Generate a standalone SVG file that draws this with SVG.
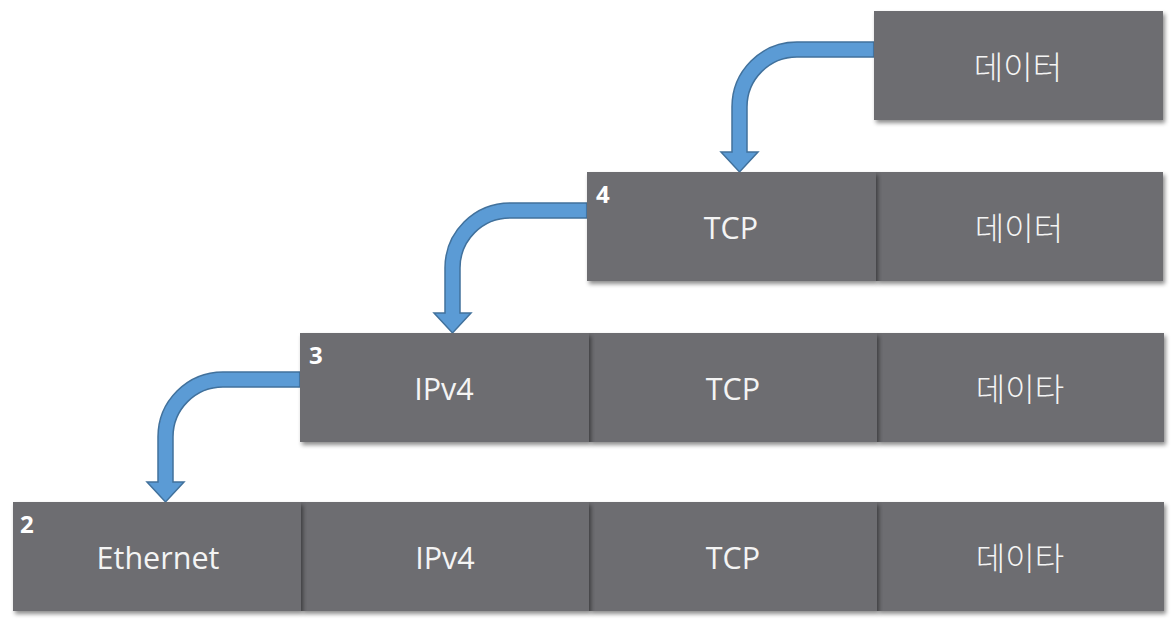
<svg xmlns="http://www.w3.org/2000/svg" width="1173" height="622" viewBox="0 0 1173 622">
<defs>
<filter id="sh" x="-10%" y="-10%" width="125%" height="130%">
<feDropShadow dx="2" dy="3" stdDeviation="2" flood-color="#000" flood-opacity="0.45"/>
</filter>
<style>
.cell{fill:#6D6D71;filter:url(#sh)}
.lbl{fill:#F4F4F4;font-family:"Open Sans","Noto Sans",sans-serif;font-size:30.5px;text-anchor:middle}
.ko{fill:#F4F4F4;font-family:"Noto Sans CJK KR","Noto Sans",sans-serif;font-size:32px;font-weight:300;text-anchor:middle}
.num{fill:#FFFFFF;font-family:"Open Sans","Noto Sans",sans-serif;font-size:24px;font-weight:bold}
.arr{fill:#5B9BD5;stroke:#41719C;stroke-width:1.5;stroke-linejoin:miter}
</style>
<path id="bend" d="M874 42 L797 42 A65 65 0 0 0 732 107 L732 152 L721 152 L739.5 172 L758 152 L747 152 L747 107 A50 50 0 0 1 797 57 L874 57 Z"/>
</defs>
<rect width="1173" height="622" fill="#FFFFFF"/>

<g id="connectors">
<use href="#bend" class="arr"/>
<use href="#bend" class="arr" transform="translate(-287 161)"/>
<use href="#bend" class="arr" transform="translate(-574 330)"/>
</g>

<g id="row1">
<g id="r1-data"><rect class="cell" x="874" y="11" width="289" height="109"/><text class="ko" x="1018" y="79">데이터</text></g>
</g>

<g id="row2">
<g id="r2-data"><rect class="cell" x="876" y="172" width="287" height="109"/><text class="ko" x="1019" y="240">데이터</text></g>
<g id="r2-tcp"><rect class="cell" x="587" y="172" width="289" height="109"/><text class="lbl" x="731" y="239">TCP</text><text class="num" x="596" y="203">4</text></g>
</g>

<g id="row3">
<g id="r3-data"><rect class="cell" x="877" y="333" width="287" height="109"/><text class="ko" x="1020" y="401">데이타</text></g>
<g id="r3-tcp"><rect class="cell" x="589" y="333" width="288" height="109"/><text class="lbl" x="733" y="400">TCP</text></g>
<g id="r3-ip"><rect class="cell" x="300" y="333" width="289" height="109"/><text class="lbl" x="444" y="400">IPv4</text><text class="num" x="309" y="364">3</text></g>
</g>

<g id="row4">
<g id="r4-data"><rect class="cell" x="877" y="502" width="287" height="109"/><text class="ko" x="1020" y="570">데이타</text></g>
<g id="r4-tcp"><rect class="cell" x="589" y="502" width="288" height="109"/><text class="lbl" x="733" y="569">TCP</text></g>
<g id="r4-ip"><rect class="cell" x="301" y="502" width="288" height="109"/><text class="lbl" x="445" y="569">IPv4</text></g>
<g id="r4-eth"><rect class="cell" x="13" y="502" width="288" height="109"/><text class="lbl" x="158" y="569">Ethernet</text><text class="num" x="20" y="533">2</text></g>
</g>
</svg>
